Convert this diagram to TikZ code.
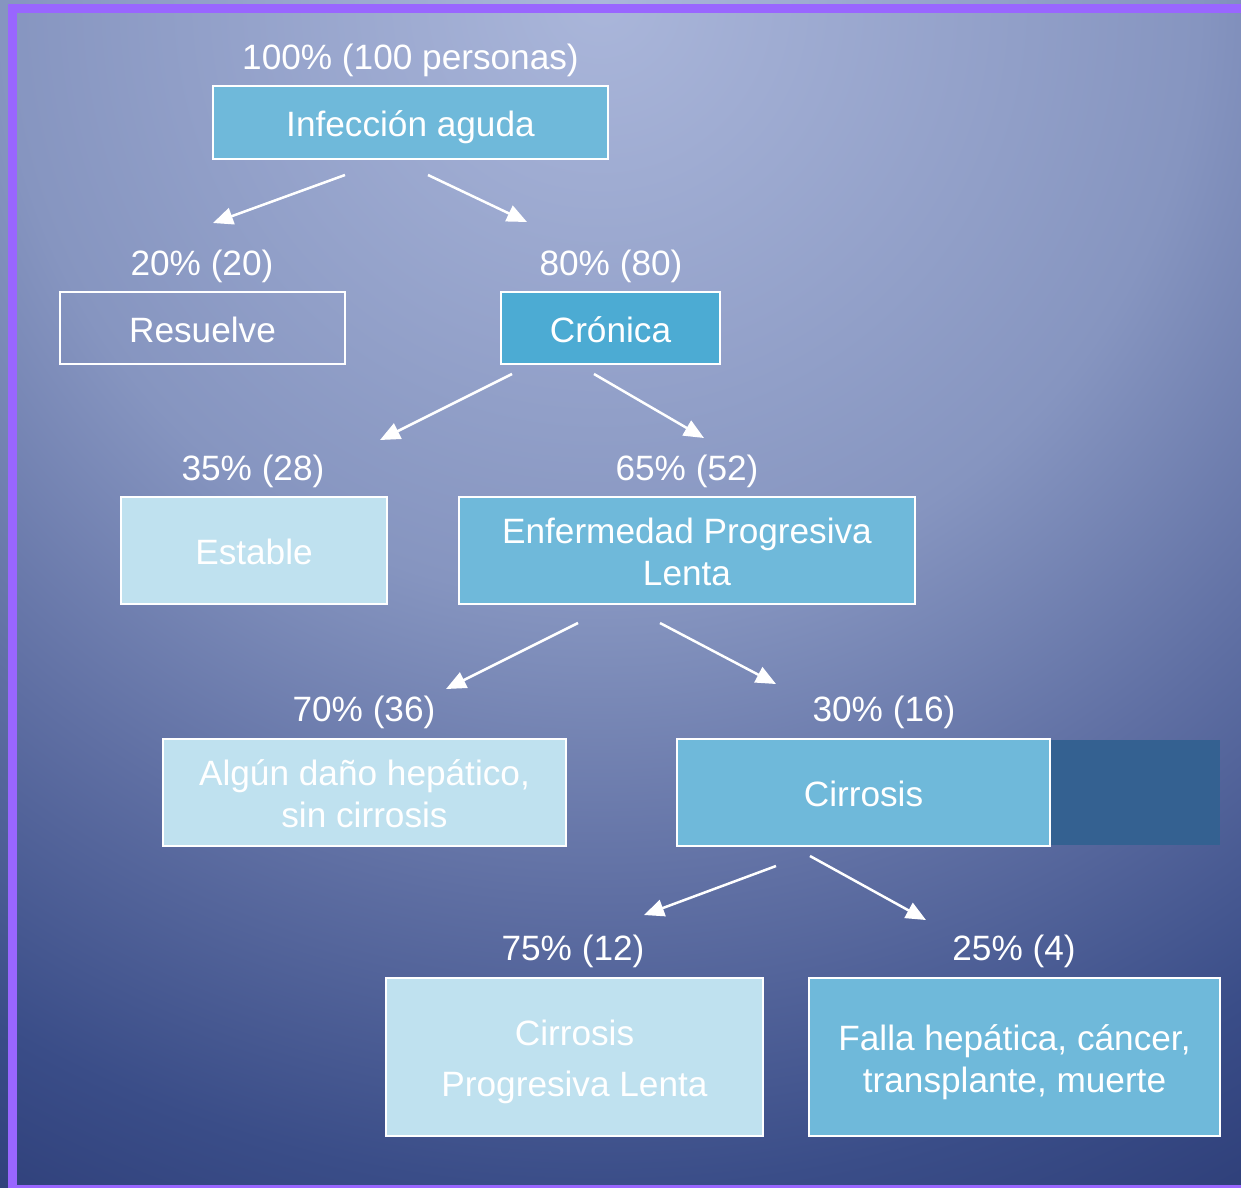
\documentclass[tikz,border=0pt]{standalone}
\usepackage{fontspec}
\setmainfont{Liberation Sans}
\usetikzlibrary{arrows.meta}
\definecolor{bgA}{RGB}{170,182,218}
\definecolor{bgB}{RGB}{134,149,192}
\definecolor{bgC}{RGB}{95,111,163}
\definecolor{bgD}{RGB}{58,77,136}
\definecolor{bgE}{RGB}{44,60,118}
\definecolor{frame}{RGB}{153,102,255}
\definecolor{midblue}{RGB}{111,185,218}
\definecolor{cronblue}{RGB}{76,171,211}
\definecolor{lightblue}{RGB}{191,225,239}
\definecolor{darkblue}{RGB}{52,97,145}
\pgfdeclareradialshading{bgshade}{\pgfpoint{0bp}{0bp}}{%
  color(0bp)=(bgA); color(10.7bp)=(bgB); color(16.05bp)=(bgC);
  color(21.25bp)=(bgD); color(25bp)=(bgE); color(50bp)=(bgE)}
\newcommand{\bigtxt}{\fontsize{35.2}{42}\selectfont}
\newcommand{\dn}[2]{\raisebox{-#1pt}[\height][\depth]{\begin{tabular}{@{}c@{}}#2\end{tabular}}}
\tikzset{
  box/.style={draw=white, line width=2.5pt, inner sep=0pt, align=center,
    text=white, font=\bigtxt},
  lbl/.style={inner sep=0pt, text=white, font=\bigtxt},
  arr/.style={draw=white, line width=2.5pt,
    -{Triangle[length=20pt,width=17pt]}}
}
\begin{document}
\begin{tikzpicture}[x=1pt,y=-1pt]
\useasboundingbox (0,0) rectangle (1241,1187);
\begin{scope}
\clip (0,0) rectangle (1241,1187);
\shade[shading=bgshade] (600,0) circle (1400);
\draw[frame, line width=9pt] (12.5,8) rectangle (1260,1189);
\end{scope}

% boxes
\node[box, fill=midblue, minimum width=395pt, minimum height=73pt] (inf) at (410.5,122.5) {\dn{6}{Infección aguda}};
\node[box, minimum width=285pt, minimum height=72pt] (res) at (202.5,328) {\dn{6}{Resuelve}};
\node[box, fill=cronblue, minimum width=219pt, minimum height=72pt] (cro) at (610.5,328) {\dn{6}{Crónica}};
\node[box, fill=lightblue, minimum width=266pt, minimum height=107pt] (est) at (254,550.5) {\dn{6}{Estable}};
\node[box, fill=midblue, minimum width=456pt, minimum height=107pt] (epl) at (687,550.5) {\dn{6}{Enfermedad Progresiva\\Lenta}};
\node[box, fill=lightblue, minimum width=403pt, minimum height=107pt] (alg) at (364.5,792.5) {\dn{6}{Algún daño hepático,\\sin cirrosis}};
\node[fill=darkblue, inner sep=0pt, minimum width=170pt, minimum height=105pt] (dark) at (1135,792.5) {};
\node[box, fill=midblue, minimum width=373pt, minimum height=107pt] (cir) at (863.5,792.5) {\dn{6}{Cirrosis}};
\node[box, fill=lightblue, minimum width=377pt, minimum height=158pt] (cpl) at (574.5,1057) {\dn{6}{Cirrosis\\[9pt]Progresiva Lenta}};
\node[box, fill=midblue, minimum width=411pt, minimum height=158pt] (fal) at (1014.5,1057) {\dn{6}{Falla hepática, cáncer,\\transplante, muerte}};

% labels
\node[lbl] (l100) at (410.5,60) {100\% (100 personas)};
\node[lbl] (l20) at (202,266) {20\% (20)};
\node[lbl] (l80) at (611,266) {80\% (80)};
\node[lbl] (l35) at (253,471) {35\% (28)};
\node[lbl] (l65) at (687,471) {65\% (52)};
\node[lbl] (l70) at (364,712) {70\% (36)};
\node[lbl] (l30) at (884,712) {30\% (16)};
\node[lbl] (l75) at (573,951) {75\% (12)};
\node[lbl] (l25) at (1014,951) {25\% (4)};

% arrow end points
\coordinate (a1s) at (345,175); \coordinate (a1e) at (213,223);
\coordinate (a2s) at (428,175); \coordinate (a2e) at (527,222);
\coordinate (a3s) at (512,374); \coordinate (a3e) at (380,440);
\coordinate (a4s) at (594,374); \coordinate (a4e) at (704,438);
\coordinate (a5s) at (578,623); \coordinate (a5e) at (446,689);
\coordinate (a6s) at (660,623); \coordinate (a6e) at (776,684);
\coordinate (a7s) at (776,866); \coordinate (a7e) at (644,915);
\coordinate (a8s) at (810,856); \coordinate (a8e) at (926,920);

\draw[arr] (a1s) -- (a1e);
\draw[arr] (a2s) -- (a2e);
\draw[arr] (a3s) -- (a3e);
\draw[arr] (a4s) -- (a4e);
\draw[arr] (a5s) -- (a5e);
\draw[arr] (a6s) -- (a6e);
\draw[arr] (a7s) -- (a7e);
\draw[arr] (a8s) -- (a8e);
\end{tikzpicture}
\end{document}
